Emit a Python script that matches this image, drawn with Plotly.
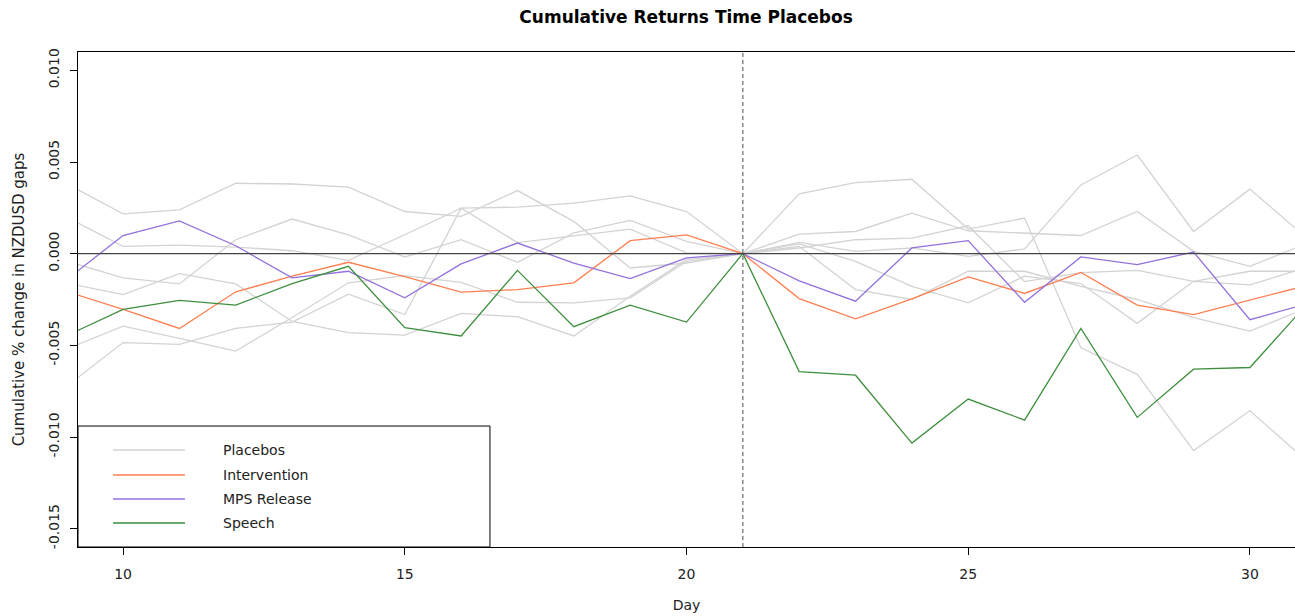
import plotly.graph_objects as go

# ---------------- data ----------------
days = list(range(9, 32))  # days 9..31 (axis shows 9.2..30.8)

intervention = [-0.00207, -0.00304, -0.00408, -0.00208, -0.00123, -0.00047, -0.00125, -0.00210,
                -0.00196, -0.00159, 0.00071, 0.00102, 0.0, -0.00245, -0.00355, -0.00246,
                -0.00127, -0.00217, -0.00102, -0.00281, -0.00332, -0.00254, -0.00174]
mps_release = [-0.00141, 0.00099, 0.00179, 0.00043, -0.00132, -0.00096, -0.00241, -0.00056,
               0.00058, -0.00051, -0.00136, -0.00023, 0.0, -0.00148, -0.00259, 0.00031,
               0.00071, -0.00265, -0.00018, -0.00060, 0.00009, -0.00360, -0.00275]
speech = [-0.00447, -0.00304, -0.00255, -0.00281, -0.00163, -0.00069, -0.00404, -0.00449,
          -0.00091, -0.00398, -0.00281, -0.00373, 0.0, -0.00643, -0.00663, -0.01033,
          -0.00793, -0.00908, -0.00408, -0.00893, -0.00630, -0.00621, -0.00279]

placebo_1 = [0.00381, 0.00217, 0.00239, 0.00384, 0.00380, 0.00363, 0.00230, 0.00203,
             0.00344, 0.00176, -0.00078, -0.00051, 0.0, 0.00326, 0.00388, 0.00406,
             0.00134, 0.00194, -0.00513, -0.00658, -0.01074, -0.00857, -0.01128]
placebo_2 = [0.00199, 0.00040, 0.00047, 0.00036, 0.00016, -0.00036, 0.00103, 0.00248,
             0.00060, 0.00098, 0.00134, 0.00004, 0.0, 0.00061, 0.00013, 0.00031,
             -0.00015, 0.00026, 0.00375, 0.00538, 0.00121, 0.00352, 0.00087]
placebo_3 = [-0.00041, -0.00132, -0.00165, 0.00076, 0.00189, 0.00103, -0.00018, 0.00076,
             -0.00047, 0.00113, 0.00181, 0.00067, 0.0, 0.00107, 0.00121, 0.00221,
             0.00125, 0.00113, 0.00099, 0.00230, 0.00013, -0.00069, 0.00055]
placebo_4 = [-0.00161, -0.00223, -0.00109, -0.00165, -0.00370, -0.00431, -0.00444, -0.00326,
             -0.00344, -0.00449, -0.00232, -0.00033, 0.0, 0.00031, 0.00076, 0.00085,
             0.00152, -0.00152, -0.00103, -0.00091, -0.00151, -0.00096, -0.00096]
placebo_5 = [-0.00520, -0.00395, -0.00462, -0.00531, -0.00348, -0.00159, -0.00120, -0.00156,
             -0.00265, -0.00268, -0.00241, -0.00043, 0.0, 0.00053, -0.00042, -0.00178,
             -0.00268, -0.00123, -0.00163, -0.00380, -0.00151, -0.00170, -0.00076]
placebo_6 = [-0.00723, -0.00485, -0.00495, -0.00408, -0.00373, -0.00221, -0.00332, 0.00248,
             0.00254, 0.00276, 0.00315, 0.00230, 0.0, 0.00040, -0.00196, -0.00250,
             -0.00096, -0.00096, -0.00178, -0.00250, -0.00349, -0.00422, -0.00298]
placebos = [placebo_1, placebo_2, placebo_3, placebo_4, placebo_5, placebo_6]

event_day = 21
x_ticks = [10, 15, 20, 25, 30]
y_ticks = [-0.015, -0.010, -0.005, 0.0, 0.005, 0.010]
y_tick_labels = ["-0.015", "-0.010", "-0.005", "0.000", "0.005", "0.010"]

legend_names = ["Placebos", "Intervention", "MPS Release", "Speech"]
col_placebo = "#d3d3d3"
col_interv = "#ff7f50"
col_mps = "#9370db"
col_speech = "#3d8f3d"
legend_colors = [col_placebo, col_interv, col_mps, col_speech]

FONT = "DejaVu Sans"

# ---------------- figure ----------------
fig = go.Figure()
for p in placebos:
    fig.add_trace(go.Scatter(x=days, y=p, mode="lines",
                             line=dict(color=col_placebo, width=1.3),
                             showlegend=False, hoverinfo="skip"))
for series, col in [(intervention, col_interv), (mps_release, col_mps), (speech, col_speech)]:
    fig.add_trace(go.Scatter(x=days, y=series, mode="lines",
                             line=dict(color=col, width=1.3),
                             showlegend=False, hoverinfo="skip"))

# reference lines
fig.add_shape(type="line", xref="paper", x0=0, x1=1, yref="y", y0=0, y1=0,
              line=dict(color="#444444", width=1.1), layer="above")
fig.add_shape(type="line", xref="x", x0=event_day, x1=event_day, yref="paper", y0=0, y1=1,
              line=dict(color="#777777", width=1.3, dash="4px,3px"), layer="above")

# manual legend box (R style)
fig.add_shape(type="rect", xref="paper", yref="paper", x0=0, x1=0.3385, y0=0, y1=0.2444,
              line=dict(color="black", width=1), fillcolor="white", layer="above")
row_y = [0.196, 0.1455, 0.097, 0.0485]
for name, col, yy in zip(legend_names, legend_colors, row_y):
    fig.add_shape(type="line", xref="paper", yref="paper", x0=0.0288, x1=0.0879, y0=yy, y1=yy,
                  line=dict(color=col, width=1.3), layer="above")
    fig.add_annotation(xref="paper", yref="paper", x=0.1175, y=yy, text=name, showarrow=False,
                       xanchor="left", yanchor="middle",
                       font=dict(family=FONT, size=14, color="#222222"))

fig.update_layout(
    width=1295, height=616,
    margin=dict(l=78, r=0, t=52, b=69),
    paper_bgcolor="white", plot_bgcolor="white",
    showlegend=False,
    font=dict(family=FONT, color="#222222"),
    title=dict(text="<b>Cumulative Returns Time Placebos</b>", x=0.5298, xanchor="center",
               y=1 - 17 / 616, yanchor="middle", yref="container",
               font=dict(family=FONT, size=17, color="black")),
)
fig.update_xaxes(range=[9.2, 30.8], tickvals=x_ticks, ticks="outside", ticklen=7,
                 tickcolor="black", showline=True, linecolor="black", linewidth=1, mirror=True,
                 showgrid=False, zeroline=False, tickfont=dict(family=FONT, size=14, color="#222222"),
                 ticklabelstandoff=7,
                 title=dict(text="Day", standoff=19, font=dict(family=FONT, size=14, color="#222222")))
fig.update_yaxes(range=[-0.016, 0.011], tickvals=y_ticks, ticktext=y_tick_labels, tickangle=-90,
                 ticks="outside", ticklen=7, tickcolor="black", showline=True, linecolor="black",
                 linewidth=1, mirror=True, showgrid=False, zeroline=False,
                 tickfont=dict(family=FONT, size=14, color="#222222"), ticklabelstandoff=5,
                 title=dict(text="Cumulative % change in NZDUSD gaps", standoff=18,
                            font=dict(family=FONT, size=15, color="#222222")))

fig.write_html("out.html")
